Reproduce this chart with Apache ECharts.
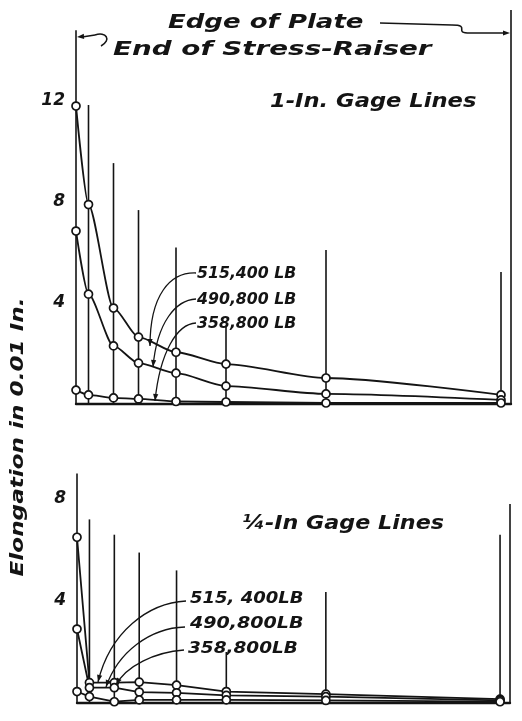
<!DOCTYPE html>
<html><head><meta charset="utf-8">
<script src="https://cdn.jsdelivr.net/npm/echarts@6/dist/echarts.min.js"></script>
<style>html,body{margin:0;background:#fff}#c{width:522px;height:721px}</style>
</head><body><div id="c"></div>
<script>
// Gage-line stations along the plate, measured from the end of the stress-raiser (in.)
const stations = [0, 0.25, 0.75, 1.25, 2, 3, 5, 8.5];
const plateEdge = 8.7;
const loads = ['515,400 LB', '490,800 LB', '358,800 LB'];

// 1-in. gage lines: elongation in 0.01 in.
const oneIn515 = [11.8, 7.9, 3.8, 2.65, 2.05, 1.58, 1.03, 0.36];
const oneIn490 = [6.85, 4.35, 2.3, 1.62, 1.22, 0.71, 0.4, 0.16];
const oneIn358 = [0.55, 0.36, 0.24, 0.2, 0.1, 0.08, 0.04, 0.04];

// 1/4-in. gage lines: elongation in 0.01 in.
const quarter515 = [6.5, 0.8, 0.8, 0.82, 0.7, 0.45, 0.35, 0.15];
const quarter490 = [2.9, 0.6, 0.6, 0.43, 0.4, 0.3, 0.25, 0.1];
const quarter358 = [0.45, 0.25, 0.05, 0.12, 0.12, 0.12, 0.1, 0.05];

// lengths of the vertical station lines (stations, then plate edge), y-axis units
const oneInMarks = [14.8, 11.84, 9.54, 7.68, 6.2, 3.05, 6.1, 5.23, 15.6];
const quarterMarks = [9.0, 7.2, 6.6, 5.9, 5.2, 2.0, 4.35, 6.6, 7.8];

// y-axis tick labels that are lettered
const oneInTicks = [4, 8, 12];
const quarterTicks = [4, 8];

const INK = '#141414';
const FONT = '"DejaVu Sans", sans-serif';

const pairs = (xs, ys) => xs.map((x, i) => [x, ys[i]]);
const markX = stations.concat([plateEdge]);

function gageItem(params, api) {
  const x = api.value(0);
  const p0 = api.coord([x, 0]);
  const p1 = api.coord([x, api.value(1)]);
  return { type: 'line', shape: { x1: p0[0], y1: p0[1], x2: p1[0], y2: p1[1] },
           style: { stroke: INK, lineWidth: 1.6 } };
}

function curve(name, data, gi, smooth) {
  return {
    name, type: 'line', xAxisIndex: gi, yAxisIndex: gi, data: pairs(stations, data),
    smooth: smooth, smoothMonotone: 'x', z: 3,
    symbol: 'circle', symbolSize: 8,
    lineStyle: { color: INK, width: 1.8 },
    itemStyle: { color: '#fff', borderColor: INK, borderWidth: 1.7 },
    emphasis: { disabled: true }, animation: false
  };
}

function gageSeries(marks, gi) {
  return { type: 'custom', xAxisIndex: gi, yAxisIndex: gi, z: 1,
           data: pairs(markX, marks), encode: { x: 0, y: 1 },
           renderItem: gageItem, animation: false, silent: true };
}

function xAxis(gi) {
  return { gridIndex: gi, type: 'value', min: 0, max: plateEdge,
           axisLine: { show: true, onZero: false, lineStyle: { color: INK, width: 2.4 } },
           axisTick: { show: false }, axisLabel: { show: false }, splitLine: { show: false } };
}

function yAxis(gi, max, ticks) {
  return { gridIndex: gi, type: 'value', min: 0, max: max, interval: 4,
           axisLine: { show: false }, axisTick: { show: false }, splitLine: { show: false },
           axisLabel: { margin: 11, color: INK, fontSize: 17, fontStyle: 'italic', fontWeight: 'bold',
                        fontFamily: FONT,
                        formatter: v => ticks.indexOf(v) >= 0 ? String(v) : '' } };
}

function text(str, x, y, size, sx, extra) {
  extra = extra || {};
  return { type: 'text', x, y, scaleX: sx, rotation: extra.rotation || 0, z: 10, silent: true,
           style: { text: str, x: 0, y: 0, fill: INK,
                    font: 'italic bold ' + size + 'px ' + FONT,
                    textAlign: extra.align || 'left', align: extra.align || 'left',
                    textVerticalAlign: 'middle', verticalAlign: 'middle' } };
}

function arrowHead(from, tip) {
  const dx = tip[0] - from[0], dy = tip[1] - from[1];
  const L = Math.hypot(dx, dy), ux = dx / L, uy = dy / L;
  const len = 7, w = 2.6;
  const bx = tip[0] - ux * len, by = tip[1] - uy * len;
  return { type: 'polygon', z: 10, silent: true,
           shape: { points: [[tip[0], tip[1]], [bx - uy * w, by + ux * w], [bx + uy * w, by - ux * w]] },
           style: { fill: INK } };
}

function bez(s, c1, c2, e, lw) {
  return { type: 'bezierCurve', z: 10, silent: true,
           shape: { x1: s[0], y1: s[1], cpx1: c1[0], cpy1: c1[1], cpx2: c2[0], cpy2: c2[1], x2: e[0], y2: e[1] },
           style: { stroke: INK, lineWidth: lw || 1.3, fill: 'none' } };
}

function leader(s, c1, c2, e) {
  return [bez(s, c1, c2, e), arrowHead(c2, e)];
}

function seg(a, b, lw) {
  return { type: 'line', z: 10, silent: true,
           shape: { x1: a[0], y1: a[1], x2: b[0], y2: b[1] }, style: { stroke: INK, lineWidth: lw || 1.5 } };
}

const graphics = [
  text('Edge of Plate', 168, 23, 20, 1.3),
  text('End of Stress-Raiser', 113, 50, 20, 1.39),
  text('1-In. Gage Lines', 270, 102, 19, 1.19),
  text('\u00bc-In Gage Lines', 242, 524, 19, 1.17),
  text('Elongation in 0.01 In.', 19, 437, 17, 1.36, { rotation: Math.PI / 2, align: 'center' }),

  text(loads[0], 197, 274, 15, 1.05),
  text(loads[1], 197, 300, 15, 1.05),
  text(loads[2], 197, 324, 15, 1.05),
  text(loads[0].replace(',', ', ').replace(' LB', 'LB'), 190, 599, 15, 1.2),
  text(loads[1].replace(' LB', 'LB'), 190, 624, 15, 1.27),
  text(loads[2].replace(' LB', 'LB'), 188, 649, 15, 1.23),

  // plate-edge and stress-raiser pointers
  seg([380, 23], [452, 25], 1.6),
  bez([452, 25], [472, 25], [452, 33], [470, 33], 1.6),
  seg([470, 33], [506, 33], 1.6),
  arrowHead([490, 33], [510, 33]),
  bez([101, 46], [112, 40], [106, 31], [95, 35], 1.5),
  seg([95, 35], [82, 37], 1.6),
  arrowHead([90, 36], [77, 37])
].concat(
  leader([196, 273], [170, 272], [150, 295], [150, 346]),
  leader([196, 299], [176, 300], [157, 322], [153, 367]),
  leader([196, 323], [177, 324], [160, 352], [155, 401]),
  leader([186, 601], [148, 603], [110, 632], [98, 682]),
  leader([185, 627], [150, 628], [118, 652], [106, 687]),
  leader([184, 650], [155, 652], [126, 666], [116, 685])
);

const chart = echarts.init(document.getElementById('c'), null, { renderer: 'canvas' });
chart.setOption({
  backgroundColor: '#fff',
  animation: false,
  grid: [
    { left: 76, right: 11, top: 0, bottom: 317 },
    { left: 77, right: 12, top: 448, bottom: 18 }
  ],
  xAxis: [xAxis(0), xAxis(1)],
  yAxis: [yAxis(0, 16, oneInTicks), yAxis(1, 10, quarterTicks)],
  series: [
    gageSeries(oneInMarks, 0),
    gageSeries(quarterMarks, 1),
    curve(loads[0], oneIn515, 0, 0.25),
    curve(loads[1], oneIn490, 0, 0.25),
    curve(loads[2], oneIn358, 0, 0.2),
    curve(loads[0], quarter515, 1, false),
    curve(loads[1], quarter490, 1, false),
    curve(loads[2], quarter358, 1, false)
  ],
  graphic: graphics
});
</script></body></html>
